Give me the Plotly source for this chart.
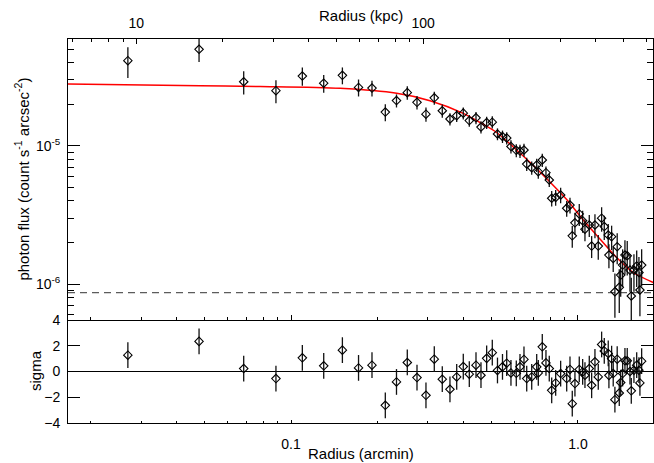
import math
import plotly.graph_objects as go

# ---------------- data ----------------
radius_arcmin = [0.0270, 0.0478, 0.0684, 0.0886, 0.1095, 0.130, 0.151, 0.1719, 0.1915, 0.2131,
                 0.2331, 0.2542, 0.2748, 0.2953, 0.3157, 0.3366, 0.358, 0.3779, 0.3984, 0.4181,
                 0.4412, 0.4592, 0.4806, 0.5028, 0.5242, 0.5457, 0.5645, 0.5841, 0.6096, 0.628,
                 0.6484, 0.6628, 0.6899, 0.7181, 0.7274, 0.751, 0.7735, 0.7943, 0.8099, 0.8362,
                 0.8703, 0.9135, 0.938, 0.9553, 0.976, 1.0105, 1.0384, 1.0577, 1.095, 1.116,
                 1.146, 1.177, 1.209, 1.235, 1.275, 1.282, 1.31, 1.327, 1.345, 1.37,
                 1.393, 1.409, 1.431, 1.458, 1.485, 1.518, 1.534, 1.567, 1.602, 1.631,
                 1.644, 1.667]

photon_flux = [4.12e-5, 4.98e-5, 2.90e-5, 2.50e-5, 3.19e-5, 2.83e-5, 3.23e-5, 2.64e-5, 2.61e-5, 1.75e-5,
               2.12e-5, 2.42e-5, 2.06e-5, 1.69e-5, 2.22e-5, 1.79e-5, 1.56e-5, 1.65e-5, 1.72e-5, 1.52e-5,
               1.59e-5, 1.365e-5, 1.47e-5, 1.48e-5, 1.215e-5, 1.166e-5, 1.137e-5, 9.87e-6, 9.26e-6, 9.15e-6,
               9.31e-6, 7.37e-6, 6.93e-6, 7.25e-6, 6.49e-6, 7.88e-6, 6.38e-6, 5.65e-6, 4.17e-6, 4.23e-6,
               4.40e-6, 3.53e-6, 3.72e-6, 2.23e-6, 2.77e-6, 3.21e-6, 2.87e-6, 2.49e-6, 2.67e-6, 1.88e-6,
               2.67e-6, 1.88e-6, 2.99e-6, 2.60e-6, 2.26e-6, 1.62e-6, 2.20e-6, 1.53e-6, 8.79e-7, 1.86e-6,
               9.46e-7, 1.16e-6, 1.37e-6, 1.62e-6, 1.60e-6, 1.26e-6, 8.19e-7, 1.26e-6, 1.35e-6, 1.21e-6,
               9.05e-7, 1.37e-6]

flux_err = [1.03e-5, 9.5e-6, 5.5e-6, 4.75e-6, 4.8e-6, 4.1e-6, 4.5e-6, 3.7e-6, 3.4e-6, 2.45e-6,
            2.3e-6, 2.7e-6, 2.3e-6, 2.0e-6, 2.4e-6, 2.0e-6, 1.6e-6, 1.65e-6, 1.7e-6, 1.5e-6,
            1.6e-6, 1.4e-6, 1.5e-6, 1.5e-6, 1.2e-6, 1.2e-6, 1.15e-6, 1.1e-6, 1.0e-6, 1.0e-6,
            1.0e-6, 8.1e-7, 7.6e-7, 8.0e-7, 7.1e-7, 8.7e-7, 7.0e-7, 6.2e-7, 5.4e-7, 5.5e-7,
            5.7e-7, 4.6e-7, 4.8e-7, 4.0e-7, 5.0e-7, 5.8e-7, 5.2e-7, 4.5e-7, 4.8e-7, 3.4e-7,
            5.3e-7, 3.8e-7, 6.0e-7, 5.2e-7, 4.5e-7, 3.2e-7, 4.4e-7, 3.1e-7, 3.1e-7, 4.7e-7,
            3.3e-7, 3.5e-7, 4.1e-7, 4.5e-7, 4.5e-7, 3.8e-7, 2.9e-7, 3.8e-7, 4.0e-7, 3.6e-7,
            3.2e-7, 4.1e-7]

residual_sigma = [1.27, 2.34, 0.23, -0.55, 1.06, 0.44, 1.66, 0.28, 0.49, -2.63,
                  -0.81, 0.70, -0.47, -1.85, 0.96, -0.60, -1.38, -0.42, 0.38, -0.21,
                  0.49, -0.29, 1.02, 1.46, 0.08, 0.36, 0.65, -0.11, -0.14, 0.36,
                  0.94, -0.55, -0.42, 0.36, -0.11, 1.92, 0.67, 0.23, -1.46, -0.89,
                  -0.16, -0.55, 0.16, -2.5, -0.94, 0.16, -0.03, -0.29, 0.23, -1.07,
                  0.75, -0.42, 2.1, 1.6, 1.4, -0.3, 1.0, -0.16, -2.19, 0.96,
                  -1.67, -0.86, -0.16, 0.83, 0.83, 0.0, -1.5, 0.1, 0.49, 0.1,
                  -0.89, 0.8]
residual_err = [1.0] * len(residual_sigma)

model_r = [0.0167, 0.0482, 0.078, 0.1482, 0.2335, 0.3050, 0.3985, 0.4555, 0.5209, 0.5952,
           0.6990, 0.7987, 0.9134, 1.0435, 1.1931, 1.3640, 1.5584, 1.8295]
model_flux = [2.793e-5, 2.715e-5, 2.68e-5, 2.600e-5, 2.392e-5, 2.115e-5, 1.715e-5, 1.472e-5, 1.246e-5, 9.79e-6,
              7.19e-6, 5.46e-6, 4.08e-6, 2.90e-6, 2.115e-6, 1.554e-6, 1.211e-6, 1.025e-6]

background_level = 8.65e-7

# axis settings
R_MIN, R_MAX = 0.0167, 1.826
KPC_PER_ARCMIN = 346.5
FLUX_MIN, FLUX_MAX = 5.49e-7, 5.91e-5

x_major = [0.1, 1.0]
x_major_text = ["0.1", "1.0"]
x_minor = [0.02, 0.03, 0.04, 0.05, 0.06, 0.07, 0.08, 0.09, 0.2, 0.3, 0.4, 0.5, 0.6, 0.7, 0.8, 0.9]
kpc_major = [10, 100]
kpc_major_text = ["10", "100"]
kpc_minor = [6, 7, 8, 9, 20, 30, 40, 50, 60, 70, 80, 90, 200, 300, 400, 500, 600]
y_major = [1e-6, 1e-5]
y_major_text = ["10<sup>-6</sup>", "10<sup>-5</sup>"]
y_minor = [6e-7, 7e-7, 8e-7, 9e-7, 2e-6, 3e-6, 4e-6, 5e-6, 6e-6, 7e-6, 8e-6, 9e-6, 2e-5, 3e-5, 4e-5, 5e-5]
sig_ticks = [-4, -2, 0, 2, 4]

FONT = "Liberation Sans, Arial, Helvetica, sans-serif"
LOWER_FRAC = 0.2682

fig = go.Figure()

# model curve
fig.add_trace(go.Scatter(x=model_r, y=model_flux, mode="lines",
                         line=dict(color="#ff0000", width=1.5, shape="spline", smoothing=0.8),
                         xaxis="x", yaxis="y", hoverinfo="skip", showlegend=False))
# background
fig.add_trace(go.Scatter(x=[R_MIN, R_MAX], y=[background_level, background_level], mode="lines",
                         line=dict(color="#333333", width=1, dash="7px,5px"),
                         xaxis="x", yaxis="y", showlegend=False))
# data
fig.add_trace(go.Scatter(x=radius_arcmin, y=photon_flux, mode="markers",
                         marker=dict(symbol="diamond-open", size=6.5, color="black", line=dict(width=1.1)),
                         error_y=dict(type="data", array=flux_err, color="#111111", thickness=1.3, width=0),
                         xaxis="x", yaxis="y", showlegend=False))
# residuals
fig.add_trace(go.Scatter(x=radius_arcmin, y=residual_sigma, mode="markers",
                         marker=dict(symbol="diamond-open", size=6.5, color="black", line=dict(width=1.1)),
                         error_y=dict(type="data", array=residual_err, color="#111111", thickness=1.3, width=0),
                         xaxis="x2", yaxis="y2", showlegend=False))
# invisible helper so the top (kpc) axis is drawn
fig.add_trace(go.Scatter(x=kpc_major, y=[background_level, background_level], mode="markers",
                         marker=dict(opacity=0, size=1), xaxis="x3", yaxis="y",
                         hoverinfo="skip", showlegend=False))

axis_common = dict(showgrid=False, showline=True, linecolor="black", linewidth=1,
                   tickcolor="black", tickfont=dict(family=FONT, size=14, color="black"))

lx = [math.log10(R_MIN), math.log10(R_MAX)]

fig.update_layout(
    width=654, height=463,
    margin=dict(l=68, r=1, t=39, b=40),
    paper_bgcolor="white", plot_bgcolor="white",
    showlegend=False,
    xaxis=dict(type="log", range=lx, domain=[0, 1], anchor="y",
               tickvals=x_major, showticklabels=False, ticks="inside", ticklen=5,
               minor=dict(tickvals=x_minor, ticks="inside", ticklen=3, tickcolor="black"),
               **axis_common),
    xaxis2=dict(type="log", range=lx, domain=[0, 1], anchor="y2", matches="x",
                tickvals=x_major, ticktext=x_major_text, ticks="inside", ticklen=3,
                ticklabelstandoff=8,
                minor=dict(tickvals=x_minor, ticks="inside", ticklen=2, tickcolor="black"),
                **axis_common),
    xaxis3=dict(type="log", range=[v + math.log10(KPC_PER_ARCMIN) for v in lx],
                overlaying="x", side="top", anchor="y",
                tickvals=kpc_major, ticktext=kpc_major_text, ticks="inside", ticklen=5,
                ticklabelstandoff=4,
                minor=dict(tickvals=kpc_minor, ticks="inside", ticklen=3, tickcolor="black"),
                **axis_common),
    yaxis=dict(type="log", range=[math.log10(FLUX_MIN), math.log10(FLUX_MAX)],
               domain=[LOWER_FRAC, 1], anchor="x",
               tickvals=y_major, ticktext=y_major_text, ticks="inside", ticklen=12,
               mirror="ticks", ticklabelstandoff=4,
               minor=dict(tickvals=y_minor, ticks="inside", ticklen=6, tickcolor="black"),
               **axis_common),
    yaxis2=dict(range=[-4, 4], domain=[0, LOWER_FRAC], anchor="x2",
                tickvals=sig_ticks, ticks="inside", ticklen=12, mirror="ticks",
                ticklabelstandoff=4,
                zeroline=True, zerolinecolor="black", zerolinewidth=1,
                **axis_common),
)

title_font = dict(family=FONT, size=15, color="black")
fig.add_annotation(text="Radius (kpc)", xref="paper", yref="paper", x=0.5, y=1.0625,
                   xanchor="center", yanchor="middle", showarrow=False, font=title_font)
fig.add_annotation(text="Radius (arcmin)", xref="paper", yref="paper", x=0.5, y=-0.0807,
                   xanchor="center", yanchor="middle", showarrow=False, font=title_font)
fig.add_annotation(text="photon flux (count s<sup>-1</sup> arcsec<sup>-2</sup>)", xref="paper", yref="paper",
                   x=-0.0786, y=0.634, textangle=-90,
                   xanchor="center", yanchor="middle", showarrow=False, font=title_font)
fig.add_annotation(text="sigma", xref="paper", yref="paper", x=-0.0564, y=0.1354, textangle=-90,
                   xanchor="center", yanchor="middle", showarrow=False, font=title_font)

fig.write_html("out.html")
